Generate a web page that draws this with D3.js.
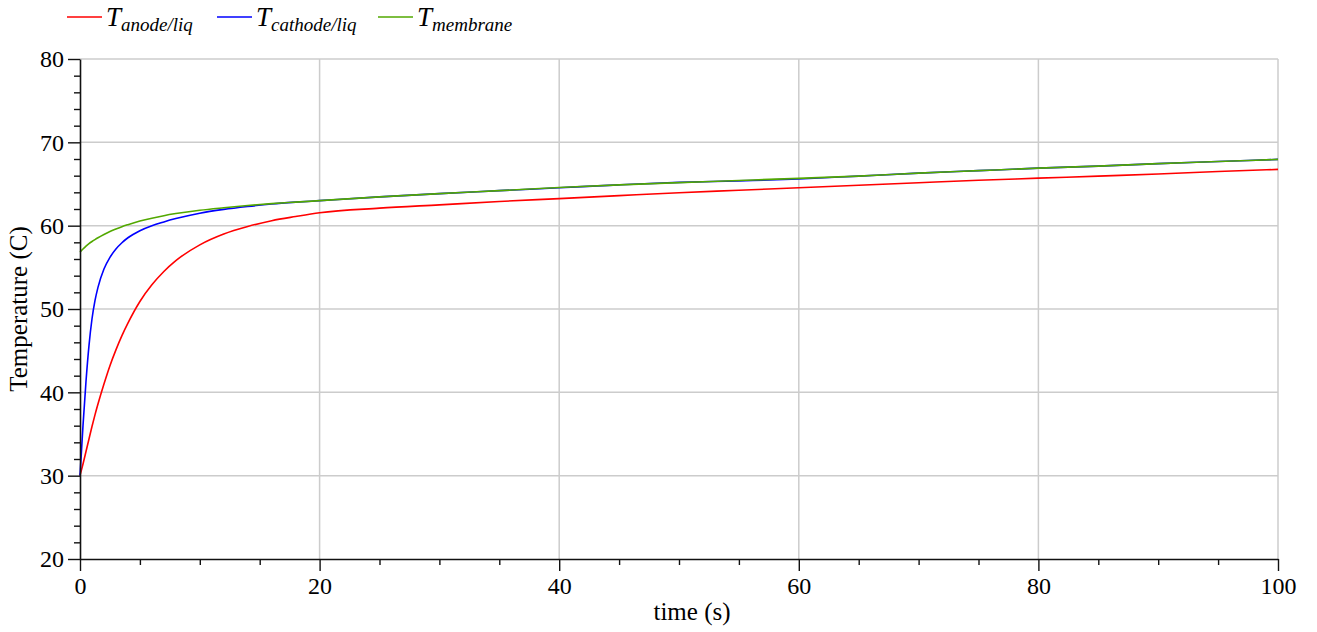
<!DOCTYPE html>
<html>
<head>
<meta charset="utf-8">
<script src="https://cdn.jsdelivr.net/npm/d3@7"></script>
<style>
  html, body { margin: 0; padding: 0; background: #fff; }
  svg { display: block; }
  svg text { font-family: "Liberation Serif", "DejaVu Serif", serif; fill: #000; }
</style>
</head>
<body>
<svg id="chart" width="1317" height="632"></svg>
<script>
// Simulation time (s)
const time = [0, 0.25, 0.5, 0.75, 1, 1.25, 1.5, 2, 2.5, 3, 3.5, 4, 5, 6, 7, 8, 10, 12, 14, 16, 18, 20,
              25, 30, 35, 40, 45, 50, 55, 60, 65, 70, 75, 80, 85, 90, 95, 100];

// Anode liquid temperature (C)
const tAnode = [30.0, 31.4, 32.9, 34.4, 35.9, 37.3, 38.6, 41.0, 43.2, 45.1, 46.8, 48.3, 50.9, 52.9, 54.5, 55.8, 57.7, 59.0, 59.9, 60.6, 61.1, 61.55,
                62.1, 62.5, 62.9, 63.25, 63.6, 63.95, 64.25, 64.55, 64.85, 65.15, 65.45, 65.7, 65.95, 66.2, 66.5, 66.75];

// Cathode liquid temperature (C)
const tCathode = [30.0, 36.0, 41.3, 45.6, 48.8, 51.0, 52.6, 54.8, 56.2, 57.2, 57.95, 58.55, 59.4, 60.0, 60.45, 60.85, 61.5, 61.95, 62.3, 62.6, 62.82, 63.0,
                  63.45, 63.85, 64.2, 64.55, 64.9, 65.2, 65.38, 65.6, 65.95, 66.3, 66.6, 66.9, 67.15, 67.45, 67.7, 67.95];

// Membrane temperature (C)
const tMembrane = [56.8, 57.2, 57.55, 57.85, 58.1, 58.33, 58.55, 58.95, 59.3, 59.6, 59.88, 60.12, 60.55, 60.9, 61.2, 61.45, 61.85, 62.15, 62.42, 62.65, 62.83, 63.0,
                   63.45, 63.85, 64.2, 64.58, 64.9, 65.17, 65.42, 65.68, 65.95, 66.3, 66.6, 66.9, 67.15, 67.45, 67.7, 67.95];

const xMajor = [0, 20, 40, 60, 80, 100];
const xMinor = [5, 10, 15, 25, 30, 35, 45, 50, 55, 65, 70, 75, 85, 90, 95];
const yMajor = [20, 30, 40, 50, 60, 70, 80];
const yMinor = [22, 24, 26, 28, 32, 34, 36, 38, 42, 44, 46, 48, 52, 54, 56, 58, 62, 64, 66, 68, 72, 74, 76, 78];

const series = [
  { name: "anode/liq", values: tAnode, color: "#ff0000" },
  { name: "cathode/liq", values: tCathode, color: "#0000ff" },
  { name: "membrane", values: tMembrane, color: "#52a800" }
];

const svg = d3.select("#chart");
const plot = { left: 80, right: 1278, top: 59, bottom: 559 };

const x = d3.scaleLinear().domain([0, 100]).range([plot.left, plot.right]);
const y = d3.scaleLinear().domain([20, 80]).range([plot.bottom, plot.top]);

// Grid lines and plot frame
const grid = svg.append("g").attr("stroke", "#cccccc").attr("stroke-width", 1.5);
grid.selectAll("line.gx").data(xMajor.slice(1)).join("line")
  .attr("x1", d => x(d)).attr("x2", d => x(d))
  .attr("y1", plot.top).attr("y2", plot.bottom);
grid.selectAll("line.gy").data(yMajor.slice(1)).join("line")
  .attr("x1", plot.left).attr("x2", plot.right)
  .attr("y1", d => y(d)).attr("y2", d => y(d));

// Curves
const line = d3.line()
  .x((d, i) => x(time[i]))
  .y(d => y(d))
  .curve(d3.curveMonotoneX);

svg.append("g").selectAll("path").data(series).join("path")
  .attr("d", s => line(s.values))
  .attr("fill", "none")
  .attr("stroke", s => s.color)
  .attr("stroke-width", 1.6);

// Axes
function styleTicks(g) {
  g.selectAll(".tick line").attr("stroke", "#111").attr("stroke-width", 1.4);
}
function styleAxis(g) {
  g.select(".domain").attr("stroke", "#111").attr("stroke-width", 1.6);
  styleTicks(g);
  g.attr("font-family", null).attr("font-size", null);
  g.selectAll(".tick text").style("font-size", "24px")
    .style("font-family", "'Liberation Serif', 'DejaVu Serif', serif");
}

svg.append("g").attr("transform", `translate(0,${plot.bottom})`)
  .call(d3.axisBottom(x).tickValues(xMinor).tickSize(6).tickFormat(""))
  .call(g => { g.select(".domain").remove(); styleTicks(g); });
svg.append("g").attr("transform", `translate(${plot.left},0)`)
  .call(d3.axisLeft(y).tickValues(yMinor).tickSize(6).tickFormat(""))
  .call(g => { g.select(".domain").remove(); styleTicks(g); });

svg.append("g").attr("transform", `translate(0,${plot.bottom})`)
  .call(d3.axisBottom(x).tickValues(xMajor).tickSizeInner(12).tickSizeOuter(0).tickPadding(6).tickFormat(d3.format("d")))
  .call(styleAxis);
svg.append("g").attr("transform", `translate(${plot.left},0)`)
  .call(d3.axisLeft(y).tickValues(yMajor).tickSizeInner(12).tickSizeOuter(0).tickPadding(4).tickFormat(d3.format("d")))
  .call(styleAxis);

// Axis titles
svg.append("text")
  .attr("x", 692).attr("y", 620)
  .attr("text-anchor", "middle").style("font-size", "25px")
  .text("time (s)");
svg.append("text")
  .attr("transform", `translate(27,${(plot.top + plot.bottom) / 2}) rotate(-90)`)
  .attr("text-anchor", "middle").style("font-size", "25px")
  .text("Temperature (C)");

// Legend
const legendX = [67, 217, 378];
const legend = svg.append("g").selectAll("g").data(series).join("g")
  .attr("transform", (d, i) => `translate(${legendX[i]},17)`);
legend.append("line")
  .attr("x1", 0).attr("x2", 35).attr("y1", 0).attr("y2", 0)
  .attr("stroke", d => d.color).attr("stroke-width", 1.6);
const lt = legend.append("text")
  .attr("x", 39).attr("y", 9)
  .style("font-style", "italic");
lt.append("tspan").style("font-size", "27px").text("T");
lt.append("tspan").style("font-size", "19px").attr("dy", 5).text(d => d.name);
</script>
</body>
</html>
